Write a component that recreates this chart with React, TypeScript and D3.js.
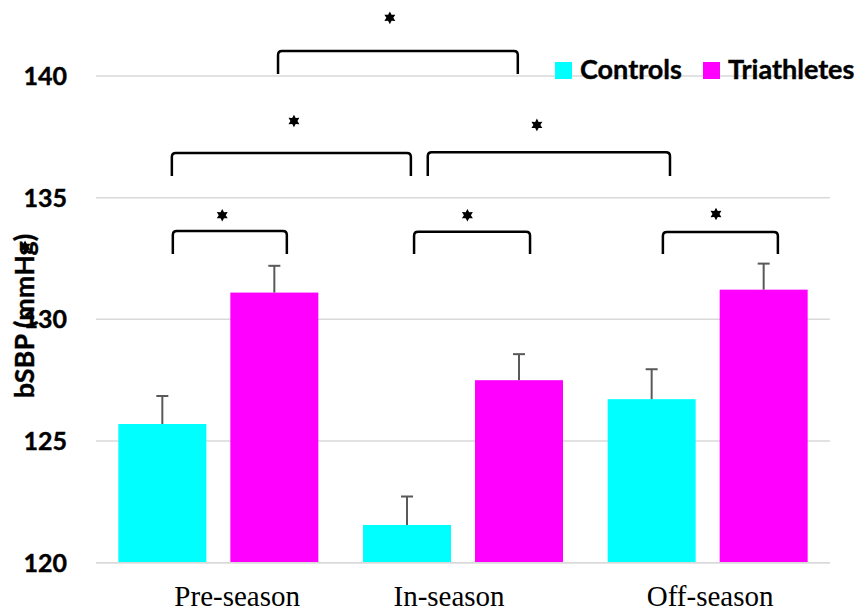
import React from 'react';
import * as d3 from 'd3';

// ---- data ----
const categories = ['Pre-season', 'In-season', 'Off-season'];
const seriesNames = ['Controls', 'Triathletes'];
const controlsMean = [125.7, 121.55, 126.72];
const controlsErr = [1.15, 1.17, 1.23];
const triathletesMean = [131.1, 127.5, 131.22];
const triathletesErr = [1.1, 1.07, 1.07];
const yTicks = [120, 125, 130, 135, 140];
const yLabel = 'bSBP (mmHg)';

// significance brackets (x in category units, 0 = first category centre; y in mmHg)
const bracketStart = [0.244, -0.19, 0.856, -0.186, 0.8, 1.817];
const bracketEnd = [1.224, 0.787, 1.846, 0.28, 1.274, 2.287];
const bracketTop = [141.03, 136.84, 136.87, 133.63, 133.6, 133.59];
const bracketFoot = [140.08, 135.89, 135.89, 132.69, 132.69, 132.69];
const starX = [0.701, 0.309, 1.302, 0.016, 1.018, 2.034, -0.79];
const starY = [142.39, 138.15, 137.99, 134.28, 134.28, 134.33, 132.98];

// ---- layout ----
const W = 860;
const H = 615;
const plotLeft = 96;
const plotRight = 830;
const labelShift = [0.077, -0.057, 0.01];
const colors = ['#00FFFF', '#FF00FF'];

function starPath(cx: number, cy: number, R: number, r: number) {
  const pts: [number, number][] = [];
  for (let i = 0; i < 12; i++) {
    const a = (Math.PI / 6) * i - Math.PI / 2;
    const rad = i % 2 === 0 ? R : r;
    pts.push([cx + rad * Math.cos(a), cy + rad * Math.sin(a)]);
  }
  return 'M' + pts.map((p) => p.join(',')).join('L') + 'Z';
}

function bracketPath(x1: number, x2: number, yt: number, yb: number) {
  const rr = 4;
  return `M${x1},${yb} L${x1},${yt + rr} Q${x1},${yt} ${x1 + rr},${yt} L${x2 - rr},${yt} Q${x2},${yt} ${x2},${yt + rr} L${x2},${yb}`;
}

export default function App() {
  const y = d3.scaleLinear().domain([120, 140]).range([562.7, 76]);
  const x0 = d3.scaleBand<string>().domain(categories).range([plotLeft, plotRight]).padding(0);
  const x1 = d3
    .scaleBand<string>()
    .domain(seriesNames)
    .range([0, x0.bandwidth()])
    .paddingInner(0.2143)
    .paddingOuter(0.1994);
  const xc = d3
    .scaleLinear()
    .domain([-0.5, categories.length - 0.5])
    .range([plotLeft, plotRight]);

  const means = [controlsMean, triathletesMean];
  const errs = [controlsErr, triathletesErr];
  const boldFont = 'Lato, "Open Sans", sans-serif';

  return (
    <svg
      width={W}
      height={H}
      style={{ position: 'absolute', left: 0, top: 0, background: '#fff' }}
      xmlns="http://www.w3.org/2000/svg"
    >
      <rect x={0} y={0} width={W} height={H} fill="#fff" />
      {/* gridlines */}
      {yTicks.map((t) => (
        <line
          key={'g' + t}
          x1={plotLeft}
          x2={plotRight}
          y1={y(t)}
          y2={y(t)}
          stroke="#d9d9d9"
          strokeWidth={1.5}
        />
      ))}
      {/* y tick labels */}
      {yTicks.map((t) => (
        <text
          key={'t' + t}
          x={67}
          y={y(t)}
          dy="0.36em"
          textAnchor="end"
          fontFamily={boldFont}
          fontWeight="bold"
          fontSize={25}
          fill="#000"
          stroke="#000"
          strokeWidth={0.4}
        >
          {t}
        </text>
      ))}
      {/* bars */}
      {seriesNames.map((s, si) =>
        categories.map((c, ci) => {
          const bx = (x0(c) as number) + (x1(s) as number);
          const bw = x1.bandwidth();
          const v = means[si][ci];
          return (
            <rect
              key={s + c}
              x={bx}
              y={y(v)}
              width={bw}
              height={y(120) - y(v)}
              fill={colors[si]}
            />
          );
        })
      )}
      {/* error bars */}
      {seriesNames.map((s, si) =>
        categories.map((c, ci) => {
          const cx = (x0(c) as number) + (x1(s) as number) + x1.bandwidth() / 2;
          const v = means[si][ci];
          const top = y(v + errs[si][ci]);
          return (
            <g key={'e' + s + c} stroke="#595959" strokeWidth={2}>
              <line x1={cx} x2={cx} y1={y(v)} y2={top} />
              <line x1={cx - 6} x2={cx + 6} y1={top} y2={top} />
            </g>
          );
        })
      )}
      {/* x axis line */}
      <line x1={plotLeft} x2={plotRight} y1={y(120)} y2={y(120)} stroke="#d9d9d9" strokeWidth={1.5} />
      {/* x labels */}
      {categories.map((c, ci) => (
        <text
          key={'x' + c}
          x={xc(ci + labelShift[ci])}
          y={606}
          textAnchor="middle"
          fontFamily='"Liberation Serif", "Times New Roman", serif'
          fontSize={29}
          fill="#000"
        >
          {c}
        </text>
      ))}
      {/* y title */}
      <text
        transform={`translate(34, ${316}) rotate(-90)`}
        textAnchor="middle"
        fontFamily={boldFont}
        fontWeight="bold"
        fontSize={27}
        fill="#000"
        stroke="#000"
        strokeWidth={0.4}
      >
        {yLabel}
      </text>
      {/* brackets */}
      {bracketStart.map((b, i) => (
        <path
          key={'b' + i}
          d={bracketPath(xc(b), xc(bracketEnd[i]), y(bracketTop[i]), y(bracketFoot[i]))}
          fill="none"
          stroke="#000"
          strokeWidth={2.5}
        />
      ))}
      {starX.map((sx, i) => (
        <path key={'s' + i} d={starPath(xc(sx), y(starY[i]), 6.3, 3.5)} fill="#000" />
      ))}
      {/* legend */}
      {seriesNames.map((s, si) => {
        const lx = [555, 703][si];
        return (
          <g key={'l' + s}>
            <rect x={lx} y={62} width={17} height={17} fill={colors[si]} />
            <text
              x={lx + 25}
              y={79}
              fontFamily={boldFont}
              fontWeight="bold"
              fontSize={27}
              fill="#000"
              stroke="#000"
              strokeWidth={0.4}
            >
              {s}
            </text>
          </g>
        );
      })}
    </svg>
  );
}
